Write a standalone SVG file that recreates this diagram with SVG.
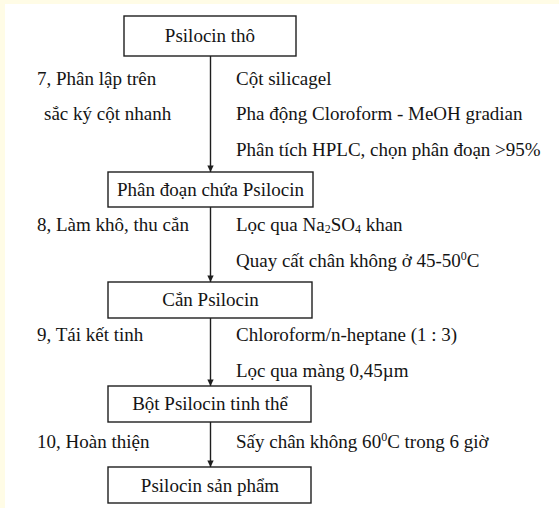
<svg xmlns="http://www.w3.org/2000/svg" width="559" height="508" viewBox="0 0 559 508">
<style>
  .box { fill: #ffffff; stroke: #1e1e1e; stroke-width: 1.4; }
  .t { font-family: "Liberation Serif", "Times New Roman", serif; font-size: 19px; fill: #141414; }
  .c { text-anchor: middle; }
  .conn { stroke: #1e1e1e; stroke-width: 1.4; fill: none; marker-end: url(#arr); }
  .sub { font-size: 12px; }
</style>
<defs>
  <marker id="arr" viewBox="0 0 8 10" refX="8" refY="5" markerWidth="7" markerHeight="8" markerUnits="userSpaceOnUse" orient="auto">
    <path d="M0,1 L8,5 L0,9 Z" fill="#1e1e1e"/>
  </marker>
</defs>
<rect x="0" y="0" width="559" height="508" fill="#fffce6"/>
<rect x="5" y="4" width="554" height="504" fill="#ffffff"/>

<g id="connectors">
  <line class="conn" x1="210.5" y1="56" x2="210.5" y2="172"/>
  <line class="conn" x1="210.5" y1="207" x2="210.5" y2="282"/>
  <line class="conn" x1="210.5" y1="318" x2="210.5" y2="386"/>
  <line class="conn" x1="210.5" y1="422" x2="210.5" y2="467"/>
</g>

<g id="n1">
  <rect class="box" x="124" y="16" width="172" height="40"/>
  <text class="t c" x="210" y="42">Psilocin thô</text>
</g>
<g id="n2">
  <rect class="box" x="108" y="172" width="205" height="35"/>
  <text class="t c" x="210.5" y="196">Phân đoạn chứa Psilocin</text>
</g>
<g id="n3">
  <rect class="box" x="108" y="282" width="204" height="36"/>
  <text class="t c" x="210.5" y="306">Cắn Psilocin</text>
</g>
<g id="n4">
  <rect class="box" x="108" y="386" width="203" height="36"/>
  <text class="t c" x="210" y="410">Bột Psilocin tinh thể</text>
</g>
<g id="n5">
  <rect class="box" x="108" y="467" width="203" height="36"/>
  <text class="t c" x="210" y="492">Psilocin sản phẩm</text>
</g>

<g id="labels">
  <text class="t" x="37" y="85">7, Phân lập trên</text>
  <text class="t" x="44" y="120">sắc ký cột nhanh</text>
  <text class="t" x="236" y="85">Cột silicagel</text>
  <text class="t" x="236" y="120">Pha động Cloroform - MeOH gradian</text>
  <text class="t" x="236" y="156">Phân tích HPLC, chọn phân đoạn &gt;95%</text>

  <text class="t" x="37" y="231">8, Làm khô, thu cắn</text>
  <text class="t" x="236" y="231">Lọc qua Na<tspan class="sub" dy="2">2</tspan><tspan dy="-2">SO</tspan><tspan class="sub" dy="2">4</tspan><tspan dy="-2"> khan</tspan></text>
  <text class="t" x="236" y="267">Quay cất chân không ở 45-5<tspan>0</tspan><tspan class="sub" dy="-7">0</tspan><tspan dy="7">C</tspan></text>

  <text class="t" x="37" y="341">9, Tái kết tinh</text>
  <text class="t" x="236" y="341">Chloroform/n-heptane (1 : 3)</text>
  <text class="t" x="236" y="377">Lọc qua màng 0,45µm</text>

  <text class="t" x="37" y="448">10, Hoàn thiện</text>
  <text class="t" x="236" y="448">Sấy chân không 6<tspan>0</tspan><tspan class="sub" dy="-7">0</tspan><tspan dy="7">C trong 6 giờ</tspan></text>
</g>
</svg>
